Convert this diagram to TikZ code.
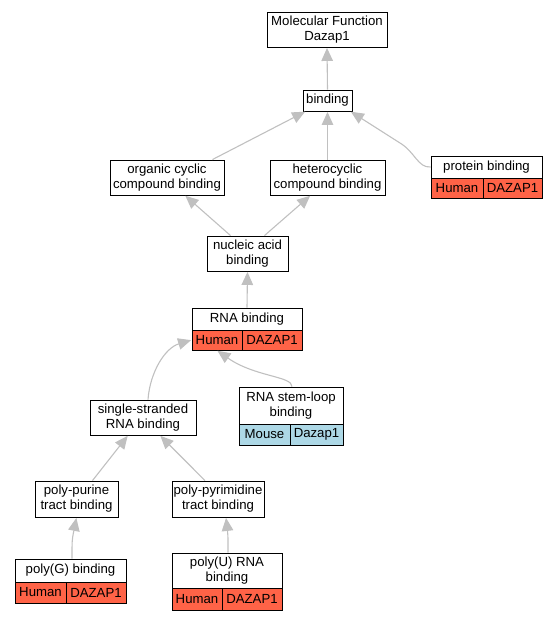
\documentclass[tikz,border=0pt]{standalone}
\usepackage{fontspec}
\setmainfont{Liberation Sans}
\usetikzlibrary{arrows.meta}
\definecolor{redcell}{HTML}{FF6347}
\definecolor{bluecell}{HTML}{ADD8E6}
\definecolor{edgegray}{HTML}{C0C0C0}
\begin{document}
\begin{tikzpicture}[x=1pt,y=-1pt,font=\fontsize{13.2}{15}\selectfont,
  box/.style={draw, fill=white, inner sep=0pt, align=center, line width=0.9pt},
  rcell/.style={box, fill=redcell},
  bcell/.style={box, fill=bluecell},
  edge/.style={draw=edgegray, line width=1.1pt, -{Triangle[length=13pt,width=11.5pt]}, shorten >=0.5pt}]
\useasboundingbox (0,0) rectangle (557,621);
% plain nodes
\node[box, minimum width=120, minimum height=35] (mf) at (327,29.5) {Molecular Function\\Dazap1};
\node[box, minimum width=49, minimum height=21] (bind) at (327.5,100.5) {binding};
\node[box, minimum width=114, minimum height=35] (org) at (167,177.5) {organic cyclic\\compound binding};
\node[box, minimum width=115, minimum height=35] (het) at (327.5,177.5) {heterocyclic\\compound binding};
\node[box, minimum width=81, minimum height=35] (nuc) at (247.5,253.5) {nucleic acid\\binding};
\node[box, minimum width=106, minimum height=35] (ss) at (143,417.5) {single-stranded\\RNA binding};
\node[box, minimum width=83, minimum height=36] (pp) at (76.5,499) {poly-purine\\tract binding};
\node[box, minimum width=92, minimum height=36] (ppy) at (218,499) {poly-pyrimidine\\tract binding};
% record nodes
\node[box, minimum width=111, minimum height=22] (prot) at (486.5,167) {protein binding};
\node[rcell, minimum width=52, minimum height=20] (proth) at (457,188) {Human};
\node[rcell, minimum width=59, minimum height=20] (protg) at (512.5,188) {DAZAP1};
\node[box, minimum width=110, minimum height=22] (rna) at (247,319) {RNA binding};
\node[rcell, minimum width=50, minimum height=20] (rnah) at (217,340) {Human};
\node[rcell, minimum width=60, minimum height=20] (rnag) at (272,340) {DAZAP1};
\node[box, minimum width=104, minimum height=37] (stem) at (291,405.5) {RNA stem-loop\\binding};
\node[bcell, minimum width=51, minimum height=21] (stemm) at (264.5,434.5) {Mouse};
\node[bcell, minimum width=53, minimum height=21] (stemg) at (316.5,434.5) {Dazap1};
\node[box, minimum width=111, minimum height=23] (pg) at (70.5,570.5) {poly(G) binding};
\node[rcell, minimum width=51, minimum height=21] (pgh) at (40.5,592.5) {Human};
\node[rcell, minimum width=60, minimum height=21] (pgg) at (96,592.5) {DAZAP1};
\node[box, minimum width=110, minimum height=35] (pu) at (227,570.5) {poly(U) RNA\\binding};
\node[rcell, minimum width=50, minimum height=22] (puh) at (197,599) {Human};
\node[rcell, minimum width=60, minimum height=22] (pug) at (252,599) {DAZAP1};
% edges
\draw[edge] (bind.north) -- (mf.south);
\draw[edge] ([xshift=-12]org.north east) -- ([xshift=3]bind.south west);
\draw[edge] (het.north) -- (bind.south);
\draw[edge] (prot.west) .. controls (418,168) and (415,152) .. (400,143) -- ([xshift=-2]bind.south east);
\draw[edge] ([xshift=-17]nuc.north) -- ([xshift=18]org.south);
\draw[edge] ([xshift=17]nuc.north) -- ([xshift=-17]het.south);
\draw[edge] (rna.north) -- (nuc.south);
\draw[edge] ([xshift=5]ss.north) .. controls (150,372) and (165,348) .. (rnah.west);
\draw[edge] ([xshift=1]stem.north) .. controls (292,376) and (255,377) .. (rnah.south);
\draw[edge] ([xshift=16]pp.north) -- ([xshift=-15]ss.south);
\draw[edge] ([xshift=-13]ppy.north) -- ([xshift=17]ss.south);
\draw[edge] ([xshift=1.5]pg.north) .. controls (72,540) .. (pp.south);
\draw[edge] ([xshift=1]pu.north) .. controls (228,535) .. ([xshift=8]ppy.south);
\end{tikzpicture}
\end{document}
